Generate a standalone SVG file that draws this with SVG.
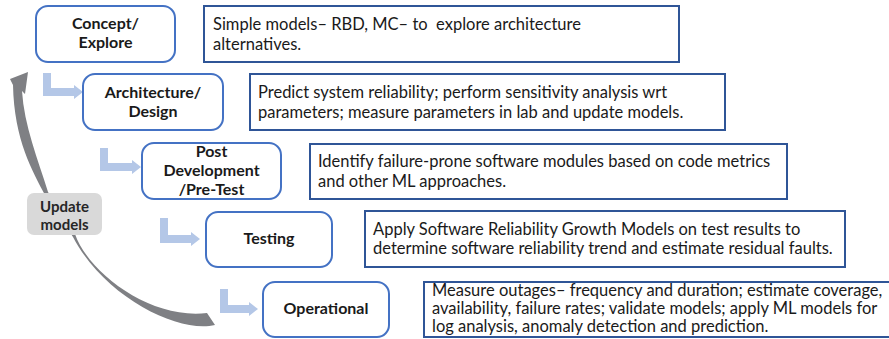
<svg xmlns="http://www.w3.org/2000/svg" width="889" height="339" viewBox="0 0 889 339">
<style>
.node{fill:#fff;stroke:#4472c4;stroke-width:2}
.desc{fill:#fff;stroke:#2f5597;stroke-width:2}
.nt{font-family:Lato,"Liberation Sans",sans-serif;font-weight:bold;font-size:16px;fill:#1a1a1a;text-anchor:middle}
.ut{font-family:Lato,"Liberation Sans",sans-serif;font-weight:bold;font-size:15px;fill:#262626;text-anchor:middle}
.dt{font-family:Lato,"Liberation Sans",sans-serif;font-size:16.5px;fill:#1a1a1a}
.la{fill:#b4c7e7}
.upd{fill:#d9d9d9}
</style>
<rect width="889" height="339" fill="#fff"/>
<g id="connectors">
<path class="la" d="M43,73 H51 V88 H74 V85 L83,92 L74,99 V96 H43 Z"/>
<path class="la" d="M100,148 H108 V163 H132 V160 L141,167 L132,174 V171 H100 Z"/>
<path class="la" d="M160,218 H168 V235 H191 V232 L200,239 L191,246 V243 H160 Z"/>
<path class="la" d="M220,289 H228 V305 H249 V302 L258,309 L249,316 V313 H220 Z"/>
<path id="update-arrow" fill="#7f8084" d="M10,79 L28,72 L25,94 L22,91 C24,125 38,160 48,192 L75,234 C88,272 150,320 207,313 L215,325 C180,334 105,298 73,237 L45,195 C33,172 14,140 13,85 Z"/>
</g>
<g id="update-models">
<rect class="upd" x="27" y="193" width="75" height="42" rx="7"/>
<text class="ut" x="64.5" y="211.5">Update</text>
<text class="ut" x="64.5" y="229.5">models</text>
</g>
<g id="concept">
<rect class="node" x="36" y="6" width="139" height="56" rx="12"/>
<text class="nt" x="105.5" y="29">Concept/</text>
<text class="nt" x="105.5" y="48">Explore</text>
</g>
<g id="concept-desc">
<rect class="desc" x="204" y="6" width="475" height="56"/>
<text class="dt" x="213" y="29.5" xml:space="preserve">Simple models– RBD, MC– to  explore architecture</text>
<text class="dt" x="213" y="49.5">alternatives.</text>
</g>
<g id="architecture">
<rect class="node" x="83" y="74" width="140" height="56" rx="12"/>
<text class="nt" x="153" y="98">Architecture/</text>
<text class="nt" x="153" y="117">Design</text>
</g>
<g id="architecture-desc">
<rect class="desc" x="250" y="74" width="475" height="56"/>
<text class="dt" x="258" y="97.5">Predict system reliability; perform sensitivity analysis wrt</text>
<text class="dt" x="258" y="117.5">parameters; measure parameters in lab and update models.</text>
</g>
<g id="post-development">
<rect class="node" x="142" y="143" width="139" height="56" rx="12"/>
<text class="nt" x="211.5" y="157">Post</text>
<text class="nt" x="211.5" y="176">Development</text>
<text class="nt" x="211.5" y="195">/Pre-Test</text>
</g>
<g id="post-development-desc">
<rect class="desc" x="310" y="144" width="477" height="55"/>
<text class="dt" x="318" y="167">Identify failure-prone software modules based on code metrics</text>
<text class="dt" x="318" y="187">and other ML approaches.</text>
</g>
<g id="testing">
<rect class="node" x="206" y="212" width="126" height="55" rx="12"/>
<text class="nt" x="269" y="244">Testing</text>
</g>
<g id="testing-desc">
<rect class="desc" x="365" y="211" width="480" height="56"/>
<text class="dt" x="373" y="234.5">Apply Software Reliability Growth Models on test results to</text>
<text class="dt" x="373" y="254">determine software reliability trend and estimate residual faults.</text>
</g>
<g id="operational">
<rect class="node" x="263" y="282" width="126" height="55" rx="12"/>
<text class="nt" x="326" y="314">Operational</text>
</g>
<g id="operational-desc">
<rect class="desc" x="424" y="282" width="480" height="55"/>
<text class="dt" x="432" y="296">Measure outages– frequency and duration; estimate coverage,</text>
<text class="dt" x="432" y="314">availability, failure rates; validate models; apply ML models for</text>
<text class="dt" x="432" y="332">log analysis, anomaly detection and prediction.</text>
</g>
</svg>
